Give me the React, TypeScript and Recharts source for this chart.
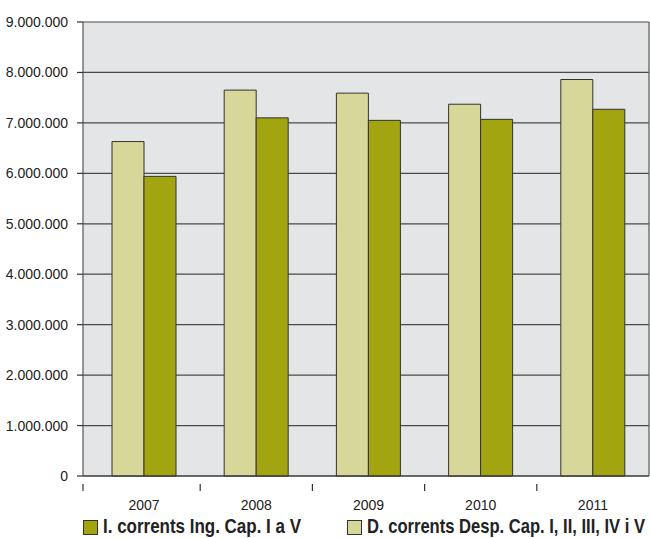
import React from 'react';
import { BarChart, Bar, XAxis, YAxis, CartesianGrid } from 'recharts';

const years = ['2007', '2008', '2009', '2010', '2011'];
const despeses = [6630000, 7650000, 7590000, 7370000, 7860000];
const ingressos = [5940000, 7100000, 7050000, 7070000, 7270000];
const yTicks = [0, 1000000, 2000000, 3000000, 4000000, 5000000, 6000000, 7000000, 8000000, 9000000];
const seriesNames = ['I. corrents Ing. Cap. I a V', 'D. corrents Desp. Cap. I, II, III, IV i V'];

const LIGHT = '#d6d799';
const DARK = '#a2a50f';

const data = years.map((y, i) => ({ year: y, desp: despeses[i], ing: ingressos[i] }));

const fmt = (v: number) => String(v).replace(/\B(?=(\d{3})+(?!\d))/g, '.');

const W = 650;
const H = 538;
const PLOT_LEFT = 83;
const PLOT_RIGHT = 649;
const PAD_LEFT = 5;
const BAND = (PLOT_RIGHT - PLOT_LEFT - PAD_LEFT) / years.length;

const XTick = (props: any) => {
  const { x, y, payload, index } = props;
  const bx = index === 0 ? PLOT_LEFT : x - BAND / 2;
  return (
    <g>
      <line x1={bx} y1={y} x2={bx} y2={y + 7} stroke="#333" strokeWidth={1.2} />
      <text x={x} y={y + 26} textAnchor="middle" fontSize={14} fontFamily="Liberation Sans, Arial, sans-serif" fill="#222">
        {payload.value}
      </text>
    </g>
  );
};

const legendColors = [DARK, LIGHT];
const legendBoxX = [83, 347];
const legendTextX = [103, 367];
const legendTextLen = [198, 278];

export default function App() {
  return (
    <div style={{ position: 'absolute', left: 0, top: 0, width: W, height: H, background: '#fff', overflow: 'hidden' }}>
      <BarChart width={W} height={H} data={data} margin={{ top: 22, right: 0, bottom: 32, left: 0 }} barGap={0} barSize={32}>
        <CartesianGrid yAxisId="l" horizontal vertical={false} stroke="#4a4a4a" strokeWidth={1.2} fill="#e4e5e7" fillOpacity={1} />
        <XAxis
          dataKey="year"
          height={30}
          padding={{ left: PAD_LEFT, right: 0 }}
          axisLine={{ stroke: '#333', strokeWidth: 1.2 }}
          tickLine={false}
          tick={<XTick />}
          interval={0}
        />
        <YAxis
          yAxisId="l"
          width={83}
          domain={[0, 9000000]}
          ticks={yTicks}
          tickFormatter={fmt}
          axisLine={{ stroke: '#555', strokeWidth: 1.2 }}
          tickLine={{ stroke: '#333', strokeWidth: 1.2 }}
          tickSize={6}
          tickMargin={9}
          tick={{ fontSize: 14, fontFamily: 'Liberation Sans, Arial, sans-serif', fill: '#222' }}
          interval={0}
        />
        <YAxis
          yAxisId="r"
          orientation="right"
          width={1}
          domain={[0, 9000000]}
          ticks={yTicks}
          tick={false}
          tickLine={false}
          axisLine={{ stroke: '#555', strokeWidth: 1.2 }}
        />
        <Bar yAxisId="l" dataKey="desp" name={seriesNames[1]} fill={LIGHT} stroke="#333" strokeWidth={1} isAnimationActive={false} />
        <Bar yAxisId="l" dataKey="ing" name={seriesNames[0]} fill={DARK} stroke="#333" strokeWidth={1} isAnimationActive={false} />
      </BarChart>
      <svg width={W} height={H} style={{ position: 'absolute', left: 0, top: 0, pointerEvents: 'none' }}>
        {seriesNames.map((n, i) => (
          <g key={n}>
            <rect x={legendBoxX[i] + 0.5} y={520.5} width={14} height={14} fill={legendColors[i]} stroke="#333" strokeWidth={1} />
            <text
              x={0}
              y={0}
              transform={`translate(${legendTextX[i]}, 533) scale(1, 1.21)`}
              fontSize={16.5}
              fontWeight="bold"
              fontFamily="Liberation Sans, Arial, sans-serif"
              fill="#222"
              textLength={legendTextLen[i]}
              lengthAdjust="spacingAndGlyphs"
            >
              {n}
            </text>
          </g>
        ))}
      </svg>
    </div>
  );
}
